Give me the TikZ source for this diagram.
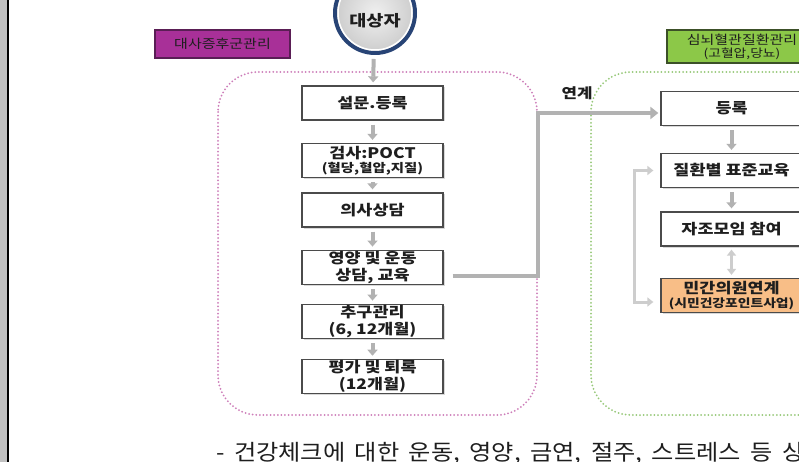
\documentclass[tikz,border=0pt]{standalone}
\usepackage{fontspec}
\setmainfont{Noto Sans CJK KR}
\newfontfamily\wfont[FakeStretch=1.2]{Noto Sans CJK KR}
\newfontfamily\bfont[FakeStretch=1.1]{Noto Sans CJK KR}
\usetikzlibrary{arrows.meta,shadows}
\definecolor{navy}{RGB}{40,68,118}
\definecolor{boxline}{RGB}{75,75,75}
\definecolor{txt}{RGB}{30,30,30}
\definecolor{purplefill}{RGB}{168,48,152}
\definecolor{purpleline}{RGB}{90,30,85}
\definecolor{greenfill}{RGB}{140,200,72}
\definecolor{greenline}{RGB}{60,80,40}
\definecolor{orangefill}{RGB}{248,190,135}
\definecolor{pinkdot}{RGB}{205,125,185}
\definecolor{greendot}{RGB}{150,200,120}
\definecolor{arrgray}{RGB}{178,178,178}
\definecolor{lightarr}{RGB}{205,205,205}
\definecolor{stripgray}{RGB}{192,192,192}
\begin{document}
\begin{tikzpicture}[x=1pt,y=-1pt,
  boxnode/.style={draw=boxline, line width=1.3pt, fill=white,
    minimum width=141pt, minimum height=34pt, inner sep=1pt, align=center,
    font=\wfont\bfseries\fontsize{14.5}{17}\selectfont, text=txt,
    drop shadow={shadow xshift=1.5pt,shadow yshift=-1.5pt,opacity=0.3}},
  labelnode/.style={line width=1.2pt, minimum height=30pt, inner sep=1pt,
    align=center, font=\wfont\fontsize{12.5}{15}\selectfont, text=txt},
  downarr/.style={draw=arrgray, line width=4pt,
    -{Triangle[width=10pt,length=6pt]}, shorten <=4pt, shorten >=3pt},
  linkline/.style={draw=arrgray, line width=4pt,
    -{Triangle[width=12pt,length=8pt]}},
  bracketline/.style={draw=lightarr, line width=3pt,
    {Triangle[width=9pt,length=6pt]}-{Triangle[width=9pt,length=6pt]}},
  dotframe/.style={line width=2pt, dash pattern=on 0pt off 3.6pt,
    line cap=round, rounded corners=40pt}
]
\useasboundingbox (0,0) rectangle (799,462);
\clip (0,0) rectangle (799,462);
\fill[white] (0,0) rectangle (799,462);
% left strip
\fill[stripgray] (0,0) rectangle (7.5,462);
\draw[black, line width=1.2pt] (8,0) -- (8,462);

% dotted frames
\draw[dotframe, pinkdot] (218,72) rectangle (537,415);
\draw[dotframe, greendot] (591,72) rectangle (860,415);

% circle
\node[circle, draw=navy, line width=4pt, minimum size=80pt,
  inner color=gray!12, outer color=gray!40, inner sep=0pt] (c) at (375,13) {};
\draw[white, line width=1.5pt] (c.center) circle (37pt);
\node[font=\wfont\bfseries\fontsize{15.5}{18}\selectfont, text=txt] (ct) at (375,21) {대상자};

% labels
\node[labelnode, draw=purpleline, fill=purplefill, minimum width=135pt,
  minimum height=28pt] (lp) at (222.5,44) {대사증후군관리};
\node[labelnode, draw=greenline, fill=greenfill, minimum width=150pt,
  minimum height=33pt] (lg) at (742,46.5)
  {심뇌혈관질환관리\\[-2pt]{\fontsize{11.5}{13}\selectfont (고혈압,당뇨)}};

% left column boxes
\node[boxnode] (b1) at (372.5,103) {설문.등록};
\node[boxnode] (b2) at (372.5,160.5) {검사:POCT\\[-3pt]{\fontsize{12}{13}\selectfont (혈당,혈압,지질)}};
\node[boxnode] (b3) at (372.5,210) {의사상담};
\node[boxnode] (b4) at (372.5,267.5) {영양 및 운동\\상담, 교육};
\node[boxnode] (b5) at (372.5,321.5) {추구관리\\(6, 12개월)};
\node[boxnode] (b6) at (372.5,376.5) {평가 및 퇴록\\(12개월)};

% right column boxes
\node[boxnode] (r1) at (731.5,108.5) {등록};
\node[boxnode] (r2) at (731.5,170.5) {질환별 표준교육};
\node[boxnode] (r3) at (731.5,229) {자조모임 참여};
\node[boxnode, fill=orangefill] (r4) at (731.5,295.5)
  {민간의원연계\\[-3pt]{\fontsize{11.5}{13}\selectfont (시민건강포인트사업)}};

% arrows left column
\draw[downarr] (c) -- (b1);
\draw[downarr] (b1) -- (b2);
\draw[downarr] (b2) -- (b3);
\draw[downarr] (b3) -- (b4);
\draw[downarr] (b4) -- (b5);
\draw[downarr] (b5) -- (b6);

% arrows right column
\draw[downarr] (r1) -- (r2);
\draw[downarr] (r2) -- (r3);
\draw[draw=lightarr, line width=3pt,
  {Triangle[width=9pt,length=6pt]}-{Triangle[width=9pt,length=6pt]},
  shorten <=3pt, shorten >=3pt] (r3) -- (r4);

% link from left to right
\coordinate (k1) at (538,276);
\coordinate (k2) at (538,113);
\draw[linkline] ([xshift=9pt,yshift=-8.5pt]b4.east) -- (k1) -- (k2)
  -- ([xshift=-2pt,yshift=-4.5pt]r1.west);
\node[font=\wfont\bfseries\fontsize{14}{16}\selectfont, text=txt] (lk) at (577,93) {연계};

% bracket on right
\coordinate (c1) at (634,170.5);
\coordinate (c2) at (634,302);
\draw[bracketline] ([xshift=-7pt]r2.west) -- (c1) -- (c2)
  -- ([xshift=-7pt,yshift=-6.5pt]r4.west);

% bottom text
\node[anchor=base west, inner sep=0pt, font=\bfont\fontsize{22}{26}\selectfont, text=txt]
  (bt) at (216,460) {\spaceskip=9.5pt- 건강체크에 대한 운동, 영양, 금연, 절주, 스트레스 등 상담};
\end{tikzpicture}
\end{document}
